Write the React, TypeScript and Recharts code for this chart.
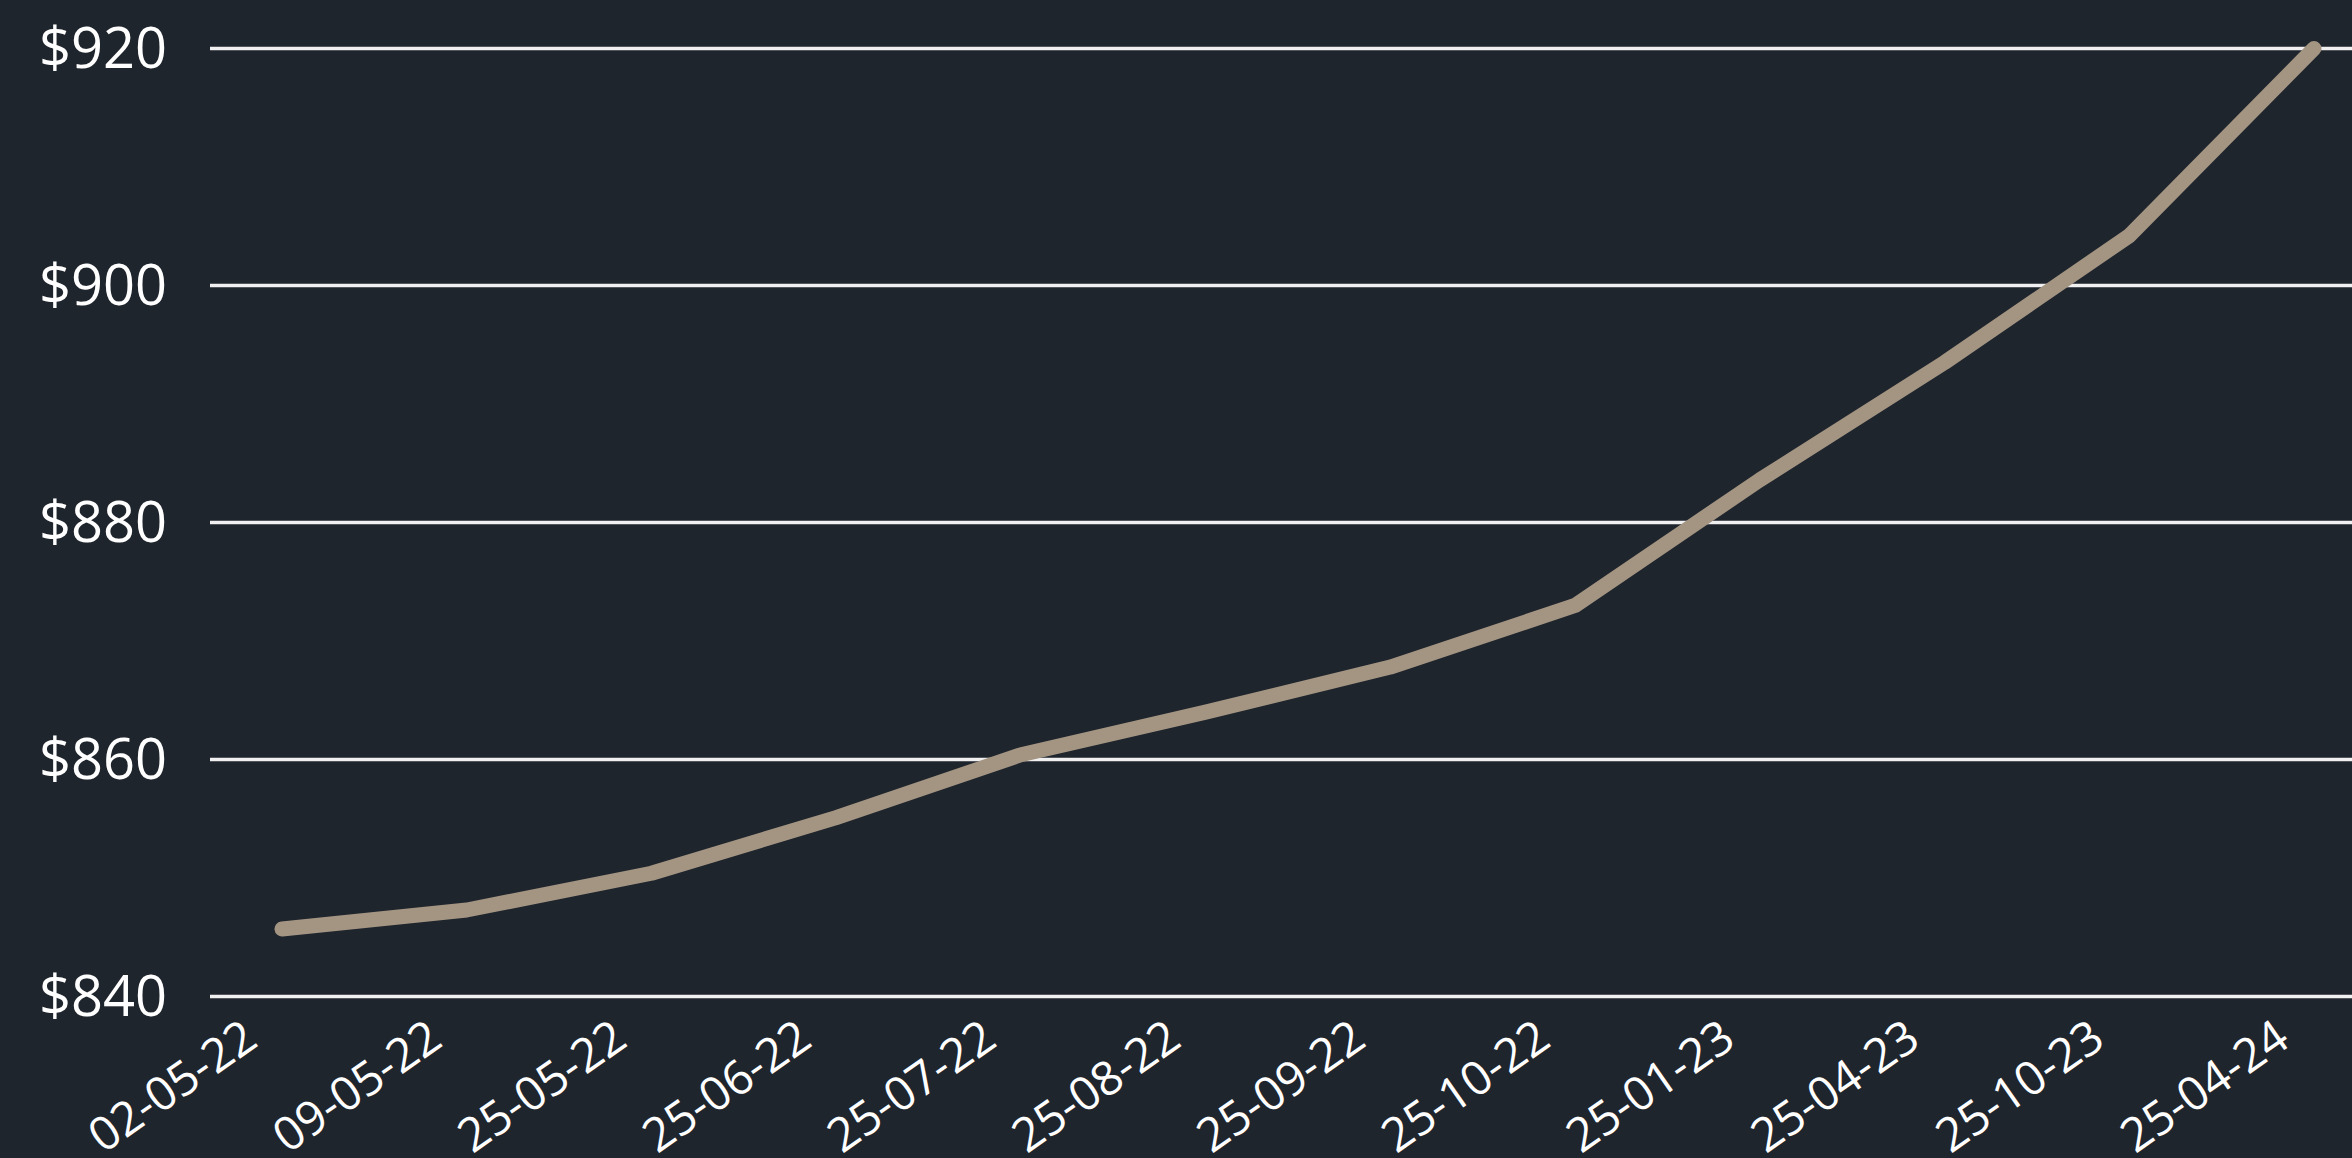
import { LineChart, Line, XAxis, YAxis, CartesianGrid } from 'recharts';

const dates = [
  '02-05-22', '09-05-22', '25-05-22', '25-06-22', '25-07-22', '25-08-22',
  '25-09-22', '25-10-22', '25-01-23', '25-04-23', '25-10-23', '25-04-24',
];
const prices = [845.7, 847.3, 850.4, 855.1, 860.4, 864.0, 867.8, 873.0, 883.6, 893.5, 904.2, 920.0];
const yTicks = [840, 860, 880, 900, 920];

const data = dates.map((date, i) => ({ date, price: prices[i] }));

const BG = '#1f252d';
const FONT = '"Open Sans", sans-serif';

// eslint-disable-next-line @typescript-eslint/no-explicit-any
function DateTick({ x, y, payload }: any) {
  const tx = x - 22;
  const ty = y + 48;
  return (
    <text
      x={tx}
      y={ty}
      textAnchor="end"
      fill="#ffffff"
      fontSize={47}
      fontFamily={FONT}
      transform={`rotate(-35, ${tx}, ${ty})`}
    >
      {payload.value}
    </text>
  );
}

export default function App() {
  return (
    <div style={{ position: 'fixed', left: 0, top: 0, width: 2352, height: 1158, background: BG }}>
      <LineChart
        width={2352}
        height={1158}
        data={data}
        margin={{ top: 48.5, right: 0, bottom: 0, left: 0 }}
      >
        <CartesianGrid vertical={false} stroke="#f0f0f0" strokeWidth={3.5} />
        <XAxis
          dataKey="date"
          axisLine={false}
          tickLine={false}
          tickSize={0}
          tickMargin={0}
          height={161.5}
          interval={0}
          padding={{ left: 72, right: 38 }}
          tick={<DateTick />}
        />
        <YAxis
          domain={[840, 920]}
          ticks={yTicks}
          axisLine={false}
          tickLine={false}
          tickSize={0}
          tickMargin={43}
          width={210}
          tickFormatter={(v: number) => `$${v}`}
          tick={{ fill: '#ffffff', fontSize: 56, fontFamily: FONT }}
        />
        <Line
          type="linear"
          dataKey="price"
          stroke="#a49583"
          strokeWidth={15}
          strokeLinecap="round"
          strokeLinejoin="round"
          dot={false}
          activeDot={false}
          isAnimationActive={false}
        />
      </LineChart>
    </div>
  );
}
